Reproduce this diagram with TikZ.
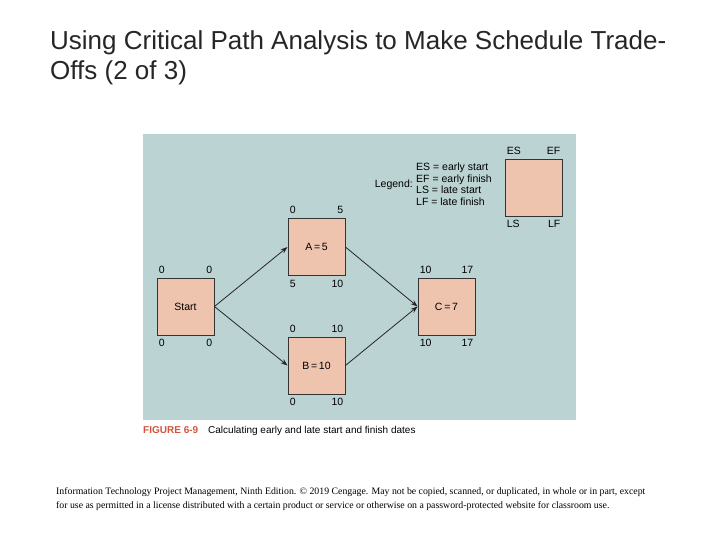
\documentclass[tikz,border=0pt]{standalone}
\usepackage{fontspec}
\setmainfont{Liberation Sans}
\newfontfamily\seriff{Liberation Serif}
\usetikzlibrary{arrows.meta}
\begin{document}
\begin{tikzpicture}[x=1pt,y=-1pt,
  box/.style={draw=black!80,line width=0.9pt,fill=boxc,minimum width=57pt,minimum height=57pt,inner sep=0pt,font=\fontsize{10.5}{12}\selectfont},
  num/.style={font=\fontsize{10.5}{11.5}\selectfont,inner sep=0pt},
  arr/.style={-{Stealth[length=7pt,width=5pt]},line width=0.8pt,black!85}]
\definecolor{panel}{HTML}{BCD3D3}
\definecolor{boxc}{HTML}{EFC4AE}
\definecolor{capred}{HTML}{D0553F}
\useasboundingbox (0,0) rectangle (720,540);
\fill[white] (0,0) rectangle (720,540);
\node[anchor=north west,align=left,inner sep=0pt,font=\fontsize{26}{30}\selectfont,text=black!85] (title) at (50,30) {Using Critical Path Analysis to Make Schedule Trade-\\Offs (2 of 3)};
\fill[panel] (143,134) rectangle (576,420);
\node[box] (S) at (185.5,306.5) {Start};
\node[box] (A) at (316.5,247) {A\,=\,5};
\node[box] (B) at (316.5,365.5) {B\,=\,10};
\node[box] (C) at (446.5,306.5) {C\,=\,7};
\node[box] (L) at (533.5,187.5) {};
\foreach \n/\a/\b/\c/\d in {S/0/0/0/0,A/0/5/5/10,B/0/10/0/10,C/10/17/10/17,L/ES/EF/LS/LF}{
  \node[num,anchor=south west] (\n es) at ([xshift=2pt,yshift=4pt]\n.north west) {\a};
  \node[num,anchor=south east] (\n ef) at ([xshift=-2pt,yshift=4pt]\n.north east) {\b};
  \node[num,anchor=north west] (\n ls) at ([xshift=2pt,yshift=-4pt]\n.south west) {\c};
  \node[num,anchor=north east] (\n lf) at ([xshift=-2pt,yshift=-4pt]\n.south east) {\d};
}
\node[num,anchor=north west,align=left] (leg) at (416,163) {ES = early start\\EF = early finish\\LS = late start\\LF = late finish};
\node[num,anchor=east] (legl) at (413,185) {Legend:};
\draw[arr] (S.east) -- (A.west);
\draw[arr] (S.east) -- (B.west);
\draw[arr] (A.east) -- (C.west);
\draw[arr] (B.east) -- (C.west);
\node[anchor=west,inner sep=0pt,font=\fontsize{10}{12}\selectfont] (cap) at (143,431) {\textcolor{capred}{\textbf{FIGURE 6-9}}\hspace{10pt}Calculating early and late start and finish dates};
\node[anchor=north west,align=left,inner sep=0pt,font=\seriff\fontsize{9.8}{14}\selectfont] (foot) at (56,487) {Information Technology Project Management, Ninth Edition. © 2019 Cengage. May not be copied, scanned, or duplicated, in whole or in part, except\\for use as permitted in a license distributed with a certain product or service or otherwise on a password-protected website for classroom use.};
\end{tikzpicture}
\end{document}
